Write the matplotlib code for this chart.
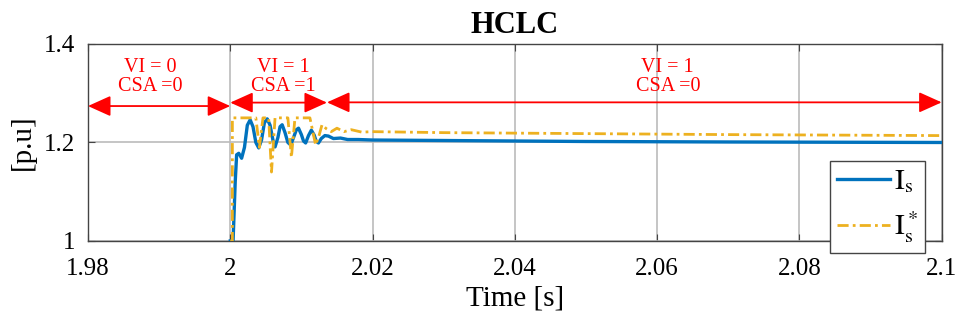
import matplotlib
matplotlib.use("Agg")
import matplotlib.pyplot as plt
from matplotlib.ticker import FuncFormatter

plt.rcParams['font.family'] = ['Liberation Serif', 'DejaVu Serif']
plt.rcParams['mathtext.fontset'] = 'stix'

# ---- data ----
t_is = [2.0000, 2.0004, 2.0007, 2.0009, 2.0012, 2.0016, 2.0020, 2.0024, 2.0028, 2.0032,
        2.0036, 2.0040, 2.0044, 2.0048, 2.0052, 2.0056, 2.0060, 2.0063, 2.0067, 2.0070,
        2.0073, 2.0077, 2.0081, 2.0085, 2.0089, 2.0093, 2.0096, 2.0100, 2.0103, 2.0106,
        2.0110, 2.0114, 2.0118, 2.0121, 2.0124, 2.0128, 2.0133, 2.0138, 2.0145, 2.0155,
        2.0165, 2.018, 2.02, 2.03, 2.05, 2.07, 2.1]
i_s = [1.000, 1.000, 1.120, 1.175, 1.178, 1.168, 1.190, 1.235, 1.246, 1.232,
       1.200, 1.189, 1.205, 1.240, 1.248, 1.235, 1.205, 1.191, 1.210, 1.232,
       1.236, 1.220, 1.200, 1.195, 1.210, 1.226, 1.229, 1.216, 1.203, 1.199,
       1.214, 1.225, 1.215, 1.202, 1.199, 1.208, 1.214, 1.213, 1.208, 1.209,
       1.206, 1.206, 1.205, 1.204, 1.202, 1.201, 1.200]

t_ref = [2.0000, 2.0003, 2.0003, 2.0036, 2.0041, 2.0046, 2.0054, 2.0058, 2.0063, 2.0081,
         2.0086, 2.0091, 2.0112, 2.0120, 2.0125, 2.0129, 2.0135, 2.0142, 2.0150, 2.0160,
         2.0170, 2.0185, 2.02, 2.03, 2.05, 2.07, 2.1]
i_ref = [1.0, 1.0, 1.25, 1.25, 1.19, 1.25, 1.25, 1.14, 1.25, 1.25,
         1.17, 1.25, 1.25, 1.195, 1.215, 1.236, 1.228, 1.222, 1.229, 1.222,
         1.226, 1.221, 1.222, 1.220, 1.218, 1.216, 1.214]

x_ticks = [1.98, 2.0, 2.02, 2.04, 2.06, 2.08, 2.1]
y_ticks = [1.0, 1.2, 1.4]

# mode intervals: (start, end, arrow level, label, label x)
modes = [(1.98, 2.0, 1.274, "VI = 0\nCSA =0", 1.9887),
         (2.0, 2.0136, 1.281, "VI = 1\nCSA =1", 2.0075),
         (2.0136, 2.1, 1.2815, "VI = 1\nCSA =0", 2.0615)]

blue = (0.0, 0.447, 0.741)
orange = (0.929, 0.694, 0.125)

fig = plt.figure(figsize=(9.56, 3.2), dpi=100)
ax = fig.add_axes([0.092, 0.247, 0.893, 0.6155])

ax.plot(t_is, i_s, color=blue, lw=2.4, label=r'$\mathrm{I_s}$', zorder=3)
ax.plot(t_ref, i_ref, color=orange, lw=2.0, ls=(0, (4, 1.5, 1, 1.5)), label=r'$\mathrm{I_s^*}$', zorder=4)

ax.set_xlim(1.98, 2.1)
ax.set_ylim(1.0, 1.4)
ax.set_xticks(x_ticks)
ax.set_yticks(y_ticks)
fmt = FuncFormatter(lambda v, p: ('%.2f' % v).rstrip('0').rstrip('.'))
ax.xaxis.set_major_formatter(fmt)
ax.yaxis.set_major_formatter(fmt)
ax.tick_params(direction='in', labelsize=18, length=5, color='#444444', top=True, right=True)
ax.tick_params(axis='x', pad=12)
ax.tick_params(axis='y', pad=9)
ax.grid(True, color='#bbbbbb', lw=1.2)
for s in ax.spines.values():
    s.set_color('#444444')
    s.set_linewidth(1.0)

ax.set_title('HCLC', fontsize=22, fontweight='bold', pad=8)
ax.set_xlabel('Time [s]', fontsize=21, labelpad=4)
ax.set_ylabel('[p.u]', fontsize=21, labelpad=6)

for (a, b, lvl, txt, tx) in modes:
    ax.annotate('', xy=(b, lvl), xytext=(a, lvl),
                arrowprops=dict(arrowstyle='<|-|>,head_length=1.0,head_width=0.45',
                                color='red', lw=1.3, shrinkA=0, shrinkB=0,
                                mutation_scale=14), zorder=5)
    ax.text(tx, 1.372, txt, color='red', fontsize=14.5, ha='center', va='top',
            linespacing=1.05, zorder=5)

leg = ax.legend(loc='upper left', bbox_to_anchor=(0.869, 0.406), borderaxespad=0,
                fontsize=21, handlelength=1.8, frameon=True, fancybox=False,
                edgecolor='#444444', framealpha=1, borderpad=0.25, labelspacing=0.5,
                handletextpad=0.15)
leg.get_frame().set_linewidth(1.0)

fig.savefig('out.png', dpi=100)
